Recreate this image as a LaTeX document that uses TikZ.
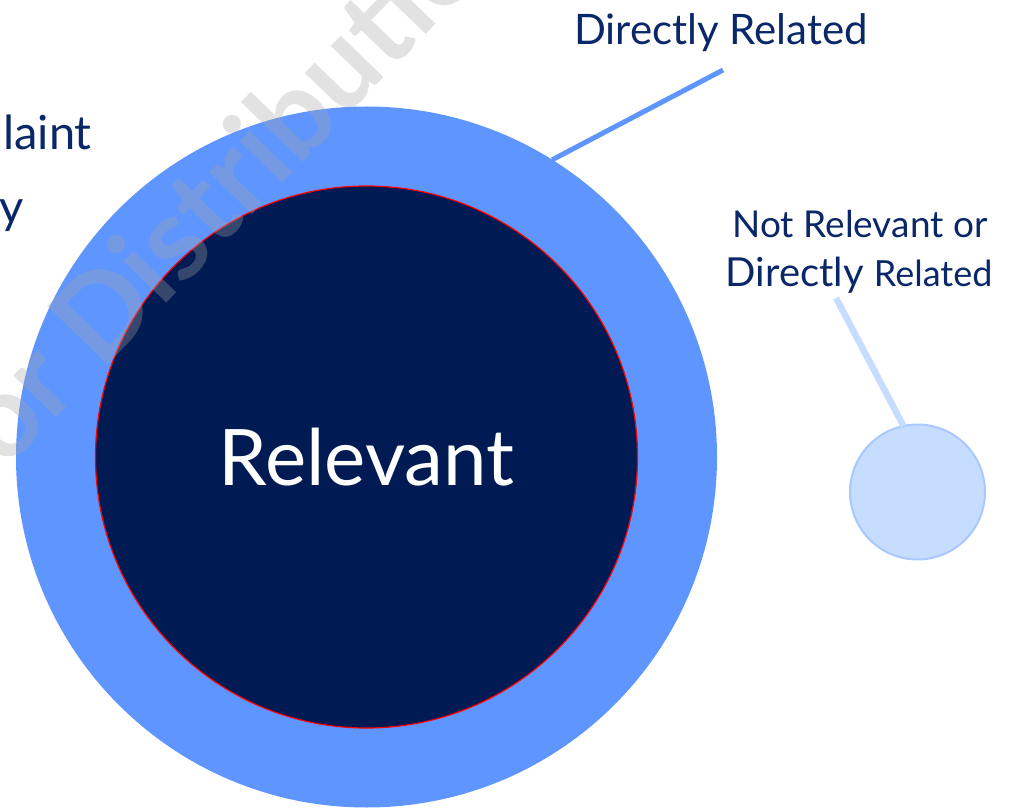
\documentclass[tikz,border=0pt]{standalone}
\usepackage{fontspec}
\setmainfont{Lato}
\usepackage{tikz}
\usetikzlibrary{positioning,calc}
\tikzstyle{ring} = [circle, inner sep=0pt, outer sep=0pt]
\tikzstyle{txt} = [inner sep=0pt, text=textnavy, align=center]
\tikzstyle{leader} = [line width=5pt]
\newcommand{\fs}[1]{\fontsize{#1}{1.15\dimexpr#1pt\relax}\selectfont}
\begin{document}
\begin{tikzpicture}[x=1pt,y=1pt]
\definecolor{midblue}{RGB}{95,149,255}
\definecolor{navy}{RGB}{0,27,83}
\definecolor{paleblue}{RGB}{198,221,255}
\definecolor{paleedge}{RGB}{168,200,255}
\definecolor{textnavy}{RGB}{10,40,105}
\definecolor{markgray}{RGB}{166,166,166}
\useasboundingbox (0,0) rectangle (1012,807);
% circles
\node[ring, fill=midblue, minimum size=701pt] (outer) at (366.5,350) {};
\node[ring, fill=navy, draw=red, line width=1.2pt, minimum size=542pt, text=white, font=\fs{78}] (inner) at (366.5,350) {Relevant};
\node[ring, fill=paleblue, draw=paleedge, line width=2pt, minimum size=135pt] (small) at (917.5,315) {};
% labels
\node[txt, anchor=base, font=\fs{42}] (direct) at (721,762) {Directly Related};
\node[txt, anchor=base, font=\fs{37}] (notrel) at (860,569) {Not Relevant or};
\node[txt, anchor=base] (notrel2) at (859,520) {{\fs{40}Directly }{\fs{36}Related}};
\node[txt, anchor=base east, font=\fs{47}] (compl) at (92,657) {laint};
\node[txt, anchor=base east, font=\fs{47}] (categ) at (24,583) {y};
% leaders
\coordinate (directtip) at (723,737);
\coordinate (notreltip) at (836,509);
\draw[leader, midblue] (outer.58) -- (directtip);
\draw[leader, paleblue, line width=6.5pt] (small.102) -- (notreltip);
% watermark
\node[inner sep=0pt, anchor=base west, rotate=46, text=markgray, text opacity=0.32, font=\bfseries\fs{116}] (mark) at (5,336) {or Distributio};
\end{tikzpicture}
\end{document}
